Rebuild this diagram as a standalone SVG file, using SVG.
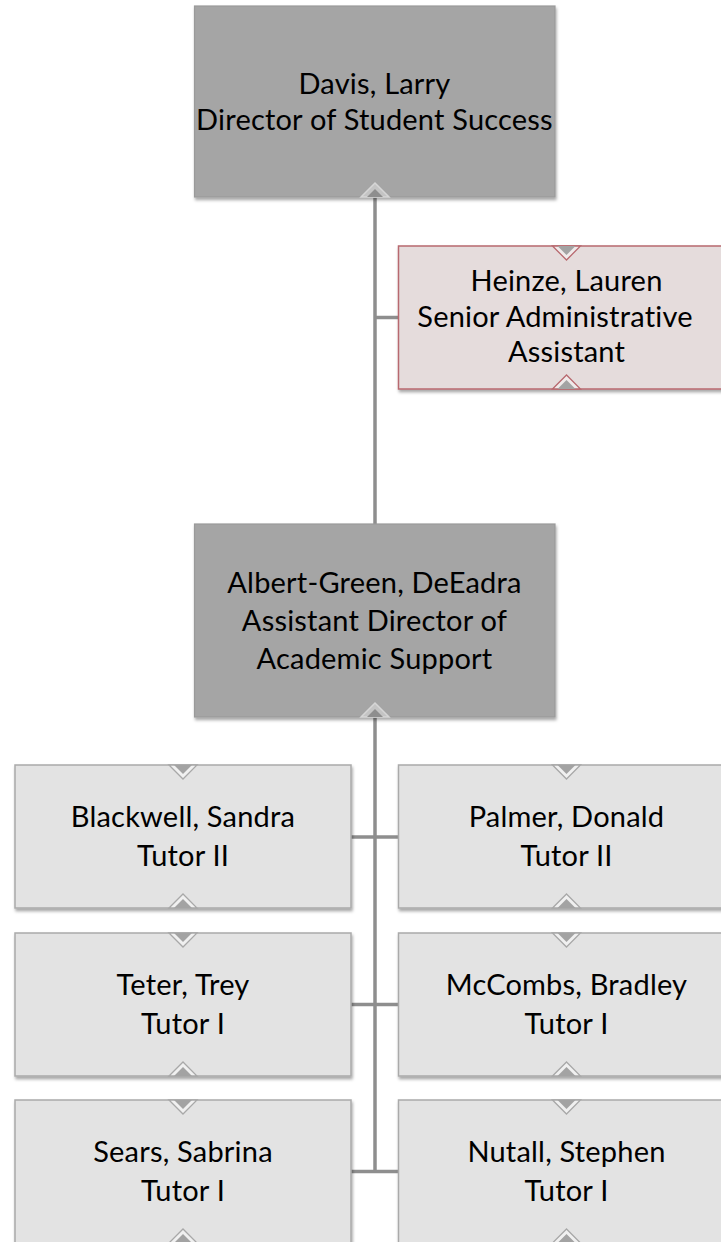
<svg xmlns="http://www.w3.org/2000/svg" width="721" height="1242" viewBox="0 0 721 1242">
  <defs>
    <filter id="sh" x="-10%" y="-10%" width="120%" height="130%">
      <feDropShadow dx="1" dy="2.5" stdDeviation="1.8" flood-color="#000" flood-opacity="0.35"/>
    </filter>
    <style>
      .dark { fill: #a5a5a5; stroke: #9a9a9a; stroke-width: 1.2; }
      .light { fill: #e3e3e3; stroke: #aaaaaa; stroke-width: 1.5; }
      .pink { fill: #e5dcdc; stroke: #b8696f; stroke-width: 1.5; }
      .t { font-family: "Lato", "Liberation Sans", sans-serif; font-size: 29px; fill: #000; text-anchor: middle; font-variant-ligatures: none; font-feature-settings: "liga" 0, "dlig" 0; letter-spacing: 0.2px; }
      .conn { stroke: #8e8e8e; stroke-width: 3.5; fill: none; }
      .nout { fill: #f0f0f0; stroke: #a8a8a8; stroke-width: 1.3; }
      .nin { fill: #a3a3a3; }
      .noutp { fill: #f0eaea; stroke: #b8696f; stroke-width: 1.3; }
    </style>
  </defs>

  <g id="connectors">
    <line class="conn" x1="375" y1="197" x2="375" y2="524"/>
    <line class="conn" x1="375" y1="317.5" x2="398" y2="317.5"/>
    <line class="conn" x1="375" y1="717" x2="375" y2="1173"/>
    <line class="conn" x1="351" y1="837" x2="398" y2="837"/>
    <line class="conn" x1="351" y1="1004.5" x2="398" y2="1004.5"/>
    <line class="conn" x1="351" y1="1171.5" x2="398" y2="1171.5"/>
  </g>

  <g id="davis">
    <rect class="dark" x="194.5" y="6" width="360.5" height="191" filter="url(#sh)"/>
    <polygon points="361,197 375,183 389,197" fill="#c4c4c4" stroke="#d6d6d6" stroke-width="1.5"/>
    <polygon points="367,197 375,189 383,197" fill="#8e8e8e"/>
    <text class="t" x="374.5" y="94">Davis, Larry</text>
    <text class="t" x="374.5" y="130">Director of Student Success</text>
  </g>

  <g id="heinze">
    <rect class="pink" x="398.5" y="246" width="337" height="143" filter="url(#sh)"/>
    <polygon class="noutp" points="552.5,246 566.5,260 580.5,246"/>
    <polygon class="nin" points="557.5,246 566.5,255 575.5,246"/>
    <polygon class="noutp" points="552.5,389 566.5,375 580.5,389"/>
    <polygon class="nin" points="557.5,389 566.5,380 575.5,389"/>
    <text class="t" x="566.5" y="291">Heinze, Lauren</text>
    <text class="t" x="555" y="327">Senior Administrative</text>
    <text class="t" x="566.5" y="362">Assistant</text>
  </g>

  <g id="albert-green">
    <rect class="dark" x="194.5" y="524" width="360.5" height="193" filter="url(#sh)"/>
    <polygon points="361,717 375,703 389,717" fill="#c4c4c4" stroke="#d6d6d6" stroke-width="1.5"/>
    <polygon points="367,717 375,709 383,717" fill="#8e8e8e"/>
    <text class="t" x="374.5" y="593">Albert-Green, DeEadra</text>
    <text class="t" x="374.5" y="631">Assistant Director of</text>
    <text class="t" x="374.5" y="669">Academic Support</text>
  </g>

  <g id="blackwell">
    <rect class="light" x="15" y="765" width="336" height="143" filter="url(#sh)"/>
    <polygon class="nout" points="169,765 183,779 197,765"/>
    <polygon class="nin" points="174,765 183,774 192,765"/>
    <polygon class="nout" points="169,908 183,894 197,908"/>
    <polygon class="nin" points="174,908 183,899 192,908"/>
    <text class="t" x="183" y="827">Blackwell, Sandra</text>
    <text class="t" x="183" y="866">Tutor II</text>
  </g>

  <g id="palmer">
    <rect class="light" x="398.5" y="765" width="337" height="143" filter="url(#sh)"/>
    <polygon class="nout" points="552.5,765 566.5,779 580.5,765"/>
    <polygon class="nin" points="557.5,765 566.5,774 575.5,765"/>
    <polygon class="nout" points="552.5,908 566.5,894 580.5,908"/>
    <polygon class="nin" points="557.5,908 566.5,899 575.5,908"/>
    <text class="t" x="566.5" y="827">Palmer, Donald</text>
    <text class="t" x="566.5" y="866">Tutor II</text>
  </g>

  <g id="teter">
    <rect class="light" x="15" y="933" width="336" height="143" filter="url(#sh)"/>
    <polygon class="nout" points="169,933 183,947 197,933"/>
    <polygon class="nin" points="174,933 183,942 192,933"/>
    <polygon class="nout" points="169,1076 183,1062 197,1076"/>
    <polygon class="nin" points="174,1076 183,1067 192,1076"/>
    <text class="t" x="183" y="995">Teter, Trey</text>
    <text class="t" x="183" y="1034">Tutor I</text>
  </g>

  <g id="mccombs">
    <rect class="light" x="398.5" y="933" width="337" height="143" filter="url(#sh)"/>
    <polygon class="nout" points="552.5,933 566.5,947 580.5,933"/>
    <polygon class="nin" points="557.5,933 566.5,942 575.5,933"/>
    <polygon class="nout" points="552.5,1076 566.5,1062 580.5,1076"/>
    <polygon class="nin" points="557.5,1076 566.5,1067 575.5,1076"/>
    <text class="t" x="566.5" y="995">McCombs, Bradley</text>
    <text class="t" x="566.5" y="1034">Tutor I</text>
  </g>

  <g id="sears">
    <rect class="light" x="15" y="1100" width="336" height="143" filter="url(#sh)"/>
    <polygon class="nout" points="169,1100 183,1114 197,1100"/>
    <polygon class="nin" points="174,1100 183,1109 192,1100"/>
    <polygon class="nout" points="169,1243 183,1229 197,1243"/>
    <polygon class="nin" points="174,1243 183,1234 192,1243"/>
    <text class="t" x="183" y="1162">Sears, Sabrina</text>
    <text class="t" x="183" y="1201">Tutor I</text>
  </g>

  <g id="nutall">
    <rect class="light" x="398.5" y="1100" width="337" height="143" filter="url(#sh)"/>
    <polygon class="nout" points="552.5,1100 566.5,1114 580.5,1100"/>
    <polygon class="nin" points="557.5,1100 566.5,1109 575.5,1100"/>
    <polygon class="nout" points="552.5,1243 566.5,1229 580.5,1243"/>
    <polygon class="nin" points="557.5,1243 566.5,1234 575.5,1243"/>
    <text class="t" x="566.5" y="1162">Nutall, Stephen</text>
    <text class="t" x="566.5" y="1201">Tutor I</text>
  </g>
</svg>
